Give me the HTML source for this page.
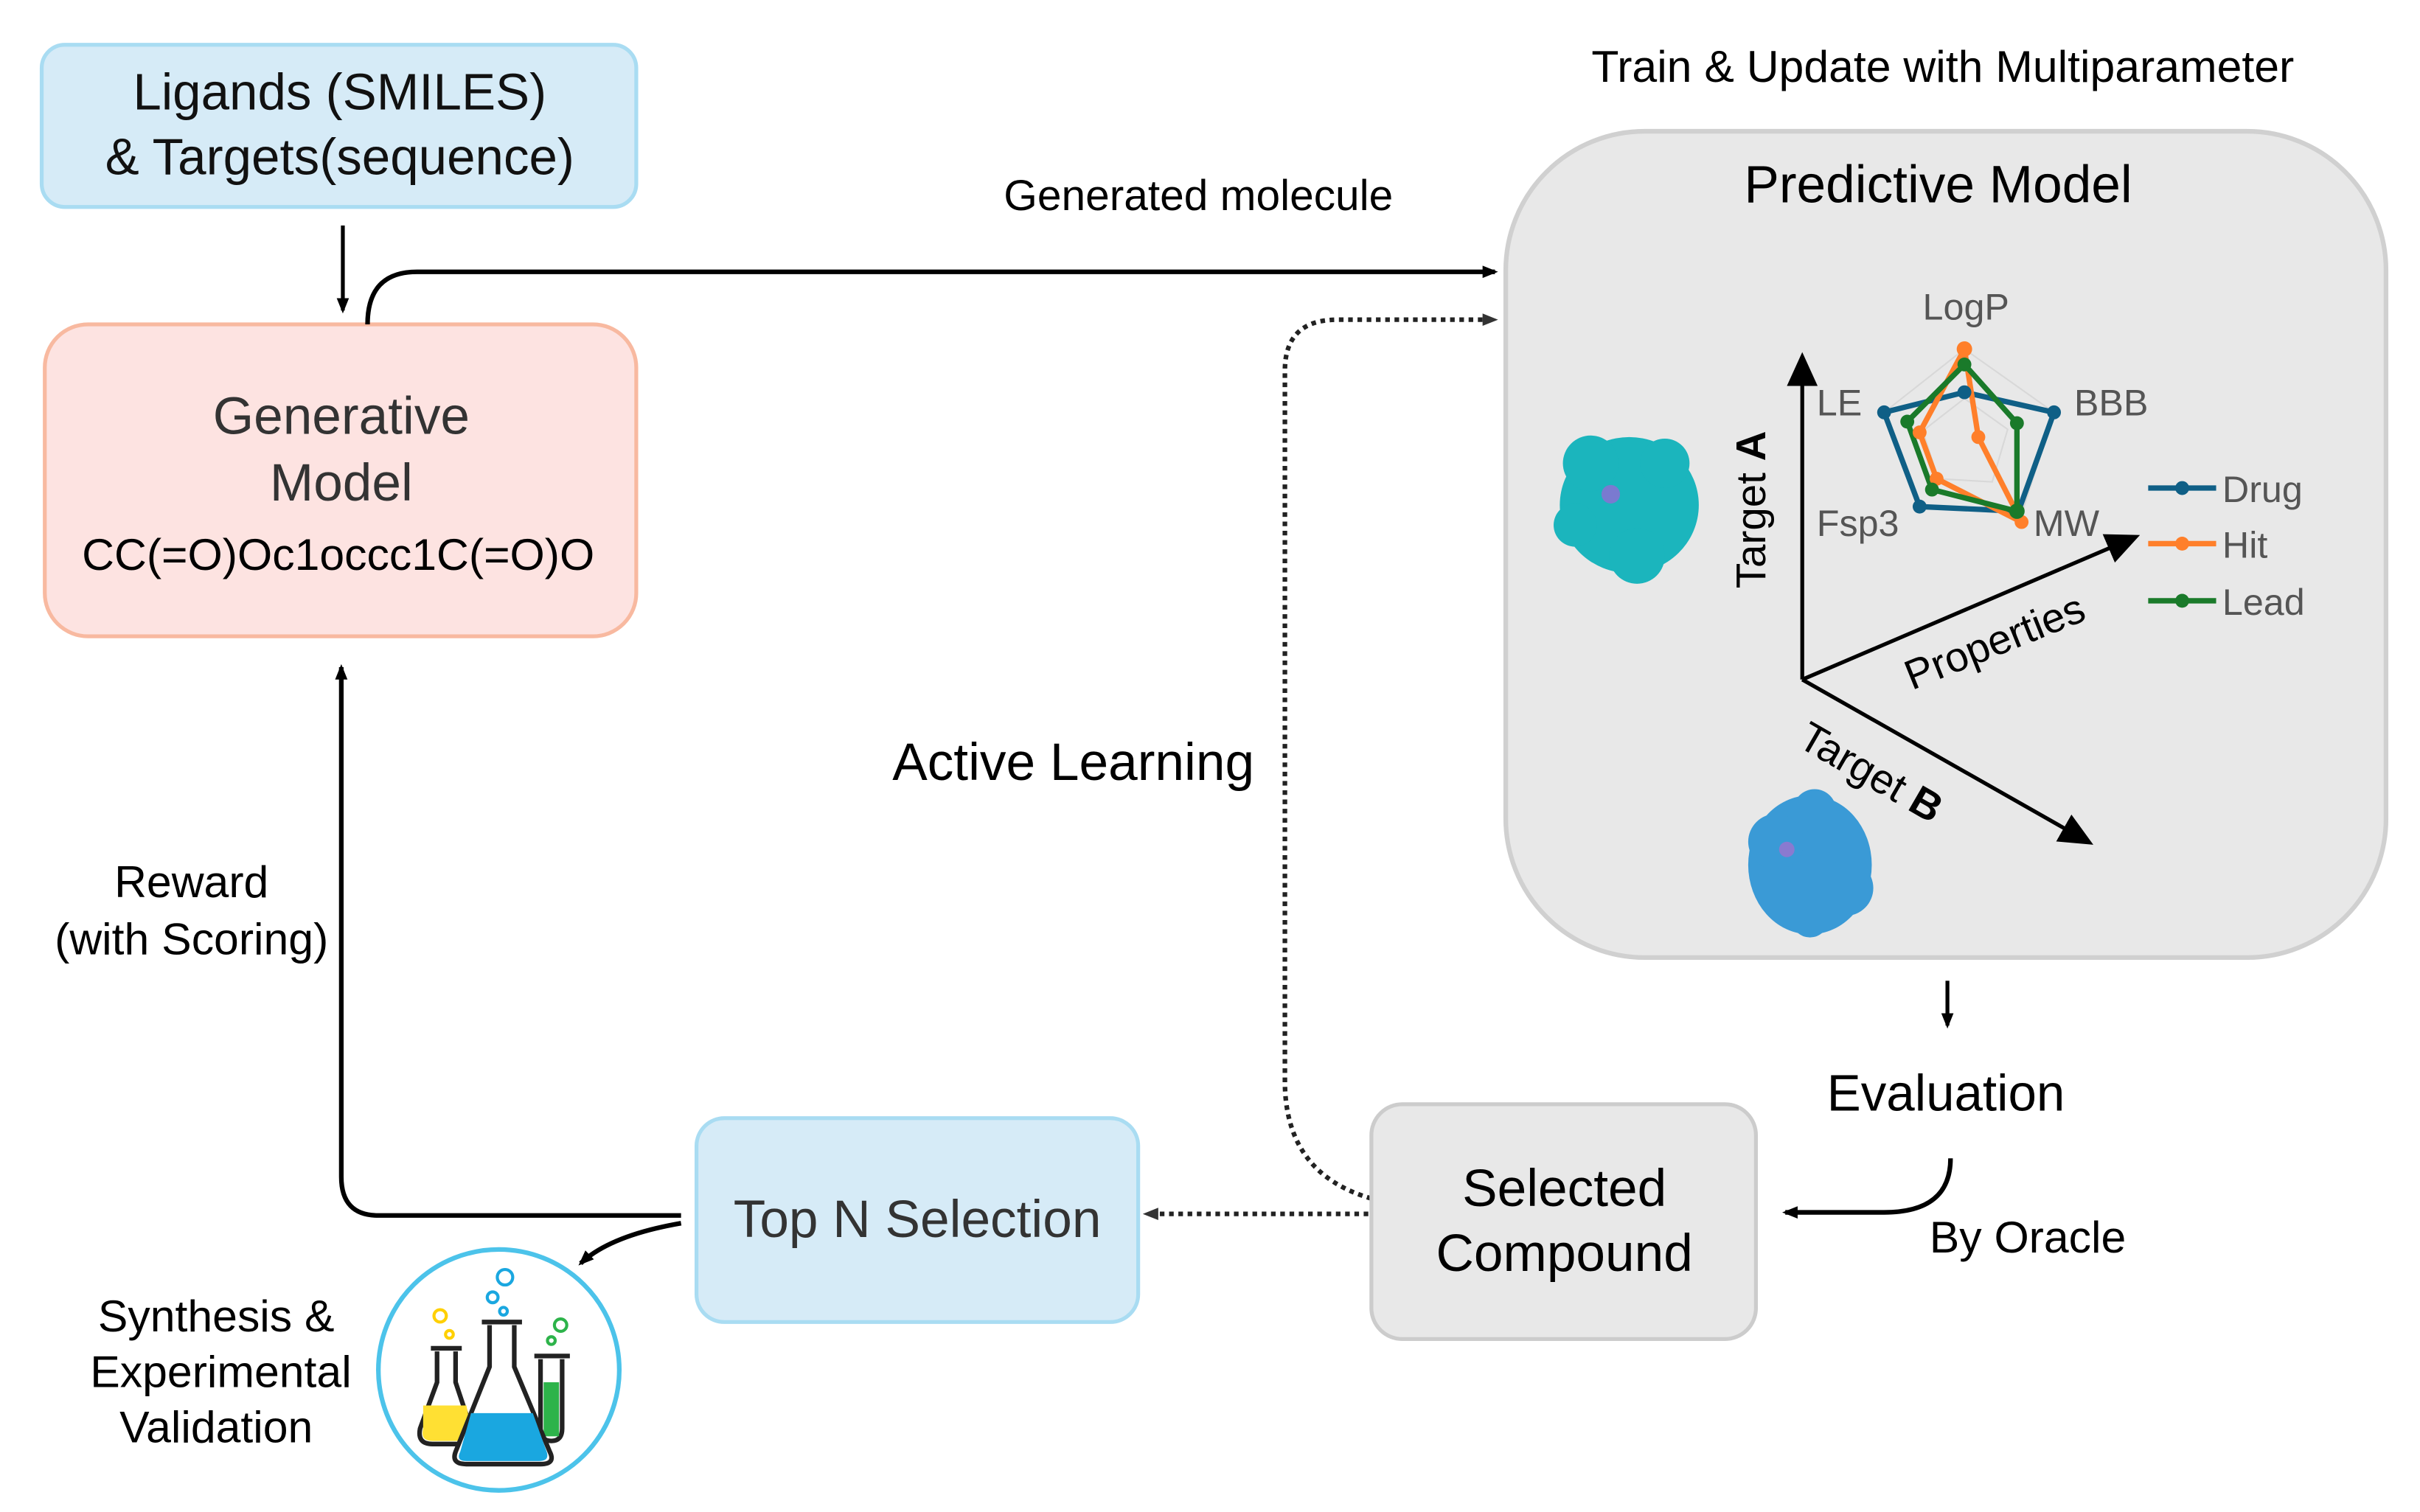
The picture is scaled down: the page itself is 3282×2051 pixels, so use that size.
<!DOCTYPE html>
<html><head><meta charset="utf-8"><style>
html,body{margin:0;padding:0;background:#fff;}
svg{display:block;}
text{font-family:"Liberation Sans",sans-serif;}
</style></head><body>
<svg width="3282" height="2051" viewBox="0 0 1567 979" preserveAspectRatio="none" xmlns="http://www.w3.org/2000/svg">
<defs>
<marker id="ah" markerWidth="10" markerHeight="10" refX="8" refY="5" orient="auto" markerUnits="userSpaceOnUse"><path d="M0,1 L10,5 L0,9 Z" fill="#000"/></marker>
<marker id="ahg" markerWidth="10" markerHeight="10" refX="8" refY="5" orient="auto" markerUnits="userSpaceOnUse"><path d="M0,1 L10,5 L0,9 Z" fill="#333"/></marker>
<marker id="big" markerWidth="22" markerHeight="20" refX="18" refY="10" orient="auto" markerUnits="userSpaceOnUse"><path d="M0,0 L22,10 L0,20 Z" fill="#000"/></marker>
</defs>

<rect x="27" y="29" width="385" height="105" rx="15" fill="#d6ebf7" stroke="#a9dcf2" stroke-width="2.5"/>
<text x="220" y="71" font-size="33" text-anchor="middle" fill="#111">Ligands (SMILES)</text>
<text x="220" y="113" font-size="33" text-anchor="middle" fill="#111">&amp; Targets(sequence)</text>
<line x1="222" y1="146" x2="222" y2="201" stroke="#000" stroke-width="2.5" marker-end="url(#ah)"/>

<rect x="29" y="210" width="383" height="202" rx="28" fill="#fde3e1" stroke="#f8b9a0" stroke-width="2.5"/>
<text x="221" y="281" font-size="34" text-anchor="middle" fill="#333">Generative</text>
<text x="221" y="324" font-size="34" text-anchor="middle" fill="#333">Model</text>
<text x="219" y="369" font-size="29" text-anchor="middle" fill="#000">CC(=O)Oc1occc1C(=O)O</text>

<text x="776" y="136" font-size="28" text-anchor="middle" fill="#000">Generated molecule</text>
<path d="M238,210 Q238,176 270,176 L968,176" fill="none" stroke="#000" stroke-width="3" marker-end="url(#ah)"/>

<path d="M888,776 Q832,760 832,700 L832,240 Q832,207 866,207 L968,207" fill="none" stroke="#222" stroke-width="3" stroke-dasharray="3,3" marker-end="url(#ahg)"/>
<text x="695" y="505" font-size="34" text-anchor="middle" fill="#000">Active Learning</text>

<text x="1258" y="53" font-size="29" text-anchor="middle" fill="#000">Train &amp; Update with Multiparameter</text>
<rect x="975" y="85" width="570" height="535" rx="90" fill="#e8e8e8" stroke="#d0d0d0" stroke-width="3"/>
<text x="1255" y="131" font-size="34" text-anchor="middle" fill="#000">Predictive Model</text>

<line x1="1167" y1="440" x2="1167" y2="232" stroke="#000" stroke-width="2.5" marker-end="url(#big)"/>
<line x1="1167" y1="440" x2="1382" y2="348" stroke="#000" stroke-width="2.5" marker-end="url(#big)"/>
<line x1="1167" y1="440" x2="1352" y2="545" stroke="#000" stroke-width="2.5" marker-end="url(#big)"/>
<text transform="translate(1143,330) rotate(-90)" font-size="27" text-anchor="middle" fill="#000">Target <tspan font-weight="bold">A</tspan></text>
<text transform="translate(1295,424) rotate(-22)" font-size="27" text-anchor="middle" fill="#000">Properties</text>
<text transform="translate(1207,508) rotate(30)" font-size="27" text-anchor="middle" fill="#000">Target <tspan font-weight="bold">B</tspan></text>

<polygon points="1272,226 1330,267 1309,333 1242,328 1220,267" fill="none" stroke="#d8d8d8" stroke-width="1"/>
<polygon points="1272,258 1300,278 1290,312 1255,310 1245,279" fill="none" stroke="#d8d8d8" stroke-width="1"/>
<g stroke-width="3.5" stroke-linejoin="round">
<polygon points="1272,254 1330,267 1307,331 1243,328 1220,267" fill="none" stroke="#0f5f86"/>
<polygon points="1272,226 1281,283 1309,338 1254,310 1243,280" fill="none" stroke="#ff7f2a"/>
<polygon points="1272,236 1306,274 1306,331 1251,317 1235,273" fill="none" stroke="#1a7a2a"/>
</g>
<g fill="#0f5f86"><circle cx="1272" cy="254" r="4.5"/><circle cx="1330" cy="267" r="4.5"/><circle cx="1243" cy="328" r="4.5"/><circle cx="1220" cy="267" r="4.5"/></g>
<g fill="#ff7f2a"><circle cx="1272" cy="226" r="5"/><circle cx="1281" cy="283" r="4.5"/><circle cx="1309" cy="338" r="4.5"/><circle cx="1254" cy="310" r="4.5"/><circle cx="1243" cy="280" r="4.5"/></g>
<g fill="#1a7a2a"><circle cx="1272" cy="236" r="4.5"/><circle cx="1306" cy="274" r="4.5"/><circle cx="1306" cy="331" r="5"/><circle cx="1251" cy="317" r="4.5"/><circle cx="1235" cy="273" r="4.5"/></g>
<g font-size="24" fill="#555">
<text x="1273" y="207" text-anchor="middle">LogP</text>
<text x="1191" y="269" text-anchor="middle">LE</text>
<text x="1367" y="269" text-anchor="middle">BBB</text>
<text x="1203" y="347" text-anchor="middle">Fsp3</text>
<text x="1338" y="347" text-anchor="middle">MW</text>
<text x="1439" y="325">Drug</text>
<text x="1439" y="361">Hit</text>
<text x="1439" y="398">Lead</text>
</g>
<line x1="1391" y1="316" x2="1435" y2="316" stroke="#0f5f86" stroke-width="3.5"/><circle cx="1413" cy="316" r="4.5" fill="#0f5f86"/>
<line x1="1391" y1="352" x2="1435" y2="352" stroke="#ff7f2a" stroke-width="3.5"/><circle cx="1413" cy="352" r="4.5" fill="#ff7f2a"/>
<line x1="1391" y1="389" x2="1435" y2="389" stroke="#1a7a2a" stroke-width="3.5"/><circle cx="1413" cy="389" r="4.5" fill="#1a7a2a"/>

<g fill="#1bb5bd">
<ellipse cx="1055" cy="327" rx="45" ry="44"/>
<circle cx="1030" cy="300" r="18"/><circle cx="1078" cy="300" r="16"/><circle cx="1060" cy="360" r="18"/><circle cx="1020" cy="340" r="14"/>
</g>
<circle cx="1043" cy="320" r="6" fill="#7a7ad0"/>
<g fill="#3a9ad6">
<ellipse cx="1172" cy="560" rx="40" ry="45"/>
<circle cx="1150" cy="545" r="18"/><circle cx="1195" cy="575" r="18"/><circle cx="1175" cy="525" r="14"/><circle cx="1172" cy="595" r="12"/>
</g>
<circle cx="1157" cy="550" r="5" fill="#8a7ad0"/>

<line x1="1261" y1="635" x2="1261" y2="664" stroke="#000" stroke-width="2.5" marker-end="url(#ah)"/>
<text x="1260" y="719" font-size="33" text-anchor="middle" fill="#000">Evaluation</text>
<path d="M1263,750 Q1263,785 1220,785 L1156,785" fill="none" stroke="#000" stroke-width="3" marker-end="url(#ah)"/>
<text x="1313" y="811" font-size="29" text-anchor="middle" fill="#000">By Oracle</text>

<rect x="888" y="715" width="249" height="152" rx="20" fill="#e8e8e8" stroke="#cccccc" stroke-width="2.5"/>
<text x="1013" y="781" font-size="34" text-anchor="middle" fill="#000">Selected</text>
<text x="1013" y="823" font-size="34" text-anchor="middle" fill="#000">Compound</text>
<line x1="886" y1="786" x2="742" y2="786" stroke="#222" stroke-width="3" stroke-dasharray="3,3" marker-end="url(#ahg)"/>

<rect x="451" y="724" width="286" height="132" rx="18" fill="#d6ebf7" stroke="#a9dcf2" stroke-width="2.5"/>
<text x="594" y="801" font-size="34" text-anchor="middle" fill="#333">Top N Selection</text>

<path d="M441,787 L245,787 Q221,787 221,762 L221,432" fill="none" stroke="#000" stroke-width="3" marker-end="url(#ah)"/>
<text x="124" y="581" font-size="29" text-anchor="middle" fill="#000">Reward</text>
<text x="124" y="618" font-size="29" text-anchor="middle" fill="#000">(with Scoring)</text>
<path d="M441,792 Q395,800 376,818" fill="none" stroke="#000" stroke-width="3" marker-end="url(#ah)"/>

<ellipse cx="323" cy="887" rx="78" ry="78" fill="#fff" stroke="#4cc3ea" stroke-width="3"/>
<path d="M283,875 L283,895 L272,925 Q270,935 280,935 L300,935 Q308,935 305,925 L295,895 L295,875" fill="#fff" stroke="#222" stroke-width="3"/>
<path d="M274,910 L302,910 L305,925 Q307,933 299,933 L280,933 Q272,933 274,925 Z" fill="#ffe033"/>
<line x1="279" y1="873" x2="299" y2="873" stroke="#222" stroke-width="3"/>
<path d="M350,880 L350,925 Q350,933 357,933 Q364,933 364,925 L364,880" fill="#fff" stroke="#222" stroke-width="3"/>
<rect x="352" y="895" width="10" height="35" fill="#2db34a"/>
<line x1="346" y1="878" x2="369" y2="878" stroke="#222" stroke-width="3"/>
<path d="M317,858 L317,885 L295,940 Q292,948 302,948 L350,948 Q360,948 356,940 L333,885 L333,858" fill="#fff" stroke="#222" stroke-width="3"/>
<path d="M305,915 L345,915 L354,940 Q356,946 349,946 L302,946 Q295,946 298,940 Z" fill="#1aa7e0"/>
<line x1="312" y1="856" x2="338" y2="856" stroke="#222" stroke-width="3"/>
<g fill="none" stroke-width="2">
<circle cx="327" cy="827" r="5" stroke="#1aa7e0"/><circle cx="319" cy="840" r="3.5" stroke="#1aa7e0"/><circle cx="326" cy="849" r="2.5" stroke="#1aa7e0"/>
<circle cx="285" cy="852" r="4" stroke="#ffd000"/><circle cx="291" cy="864" r="2.5" stroke="#ffd000"/>
<circle cx="363" cy="858" r="4" stroke="#2db34a"/><circle cx="357" cy="868" r="2.5" stroke="#2db34a"/>
</g>
<text x="140" y="862" font-size="29" text-anchor="middle" fill="#000">Synthesis &amp;</text>
<text x="143" y="898" font-size="29" text-anchor="middle" fill="#000">Experimental</text>
<text x="140" y="934" font-size="29" text-anchor="middle" fill="#000">Validation</text>
</svg>
</body></html>
